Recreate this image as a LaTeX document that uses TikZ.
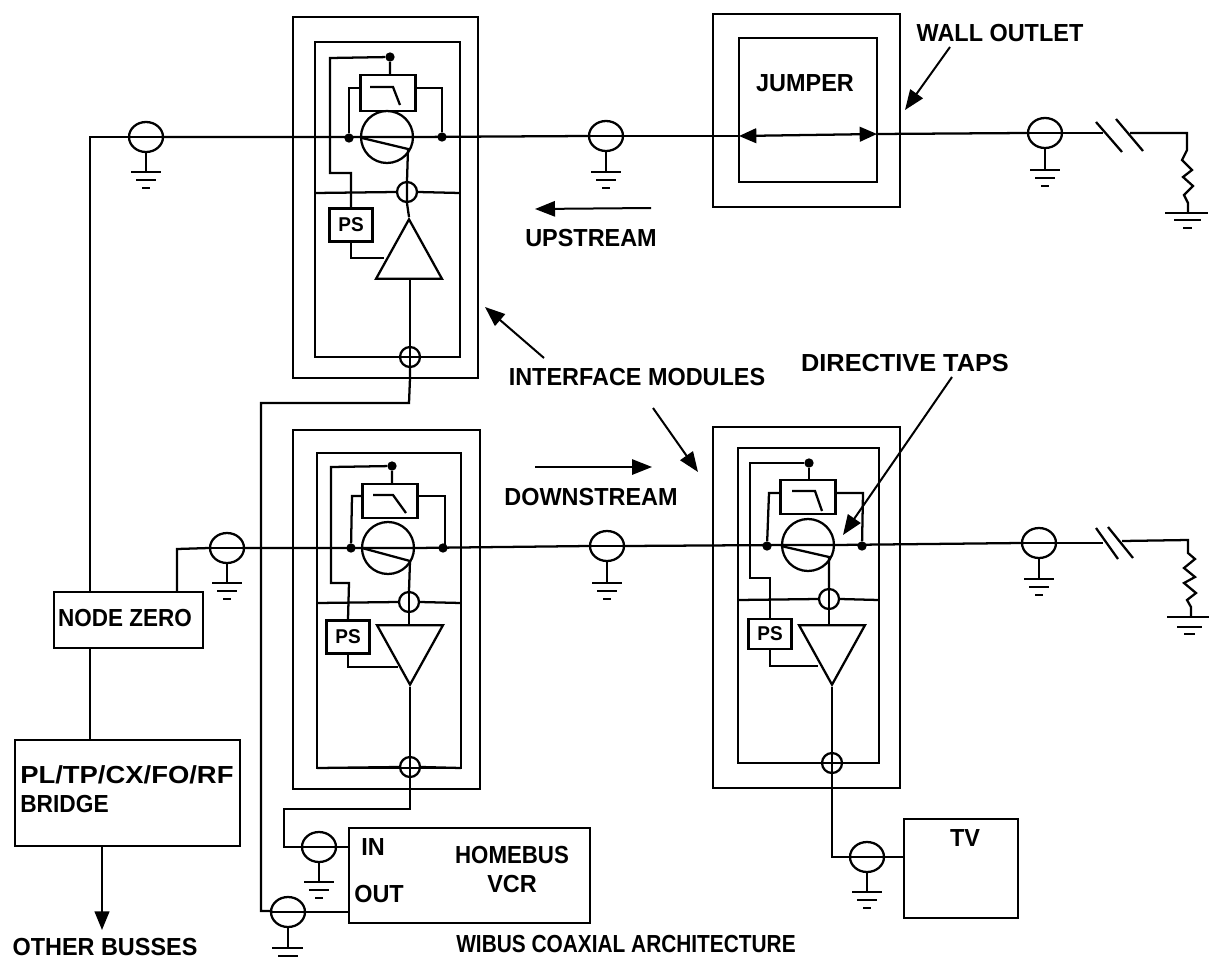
\documentclass[tikz,border=0pt]{standalone}
\usepackage{fontspec}
\setmainfont{Liberation Sans}[FakeStretch=0.95]
\usetikzlibrary{arrows.meta,shapes.geometric}
\tikzset{
  wire/.style={draw,line width=1.7pt},
  blk/.style={draw,line width=1.7pt,inner sep=0pt},
  tap/.style={draw,circle,line width=1.7pt,inner sep=0pt,minimum size=#1},
  coaxc/.style={draw,ellipse,line width=1.7pt,inner sep=0pt,minimum width=25.5pt,minimum height=22.5pt},
  dotn/.style={fill=black,circle,inner sep=0pt,minimum size=7pt},
  lbl/.style={font=\bfseries\fontsize{18.5pt}{20pt}\selectfont,inner sep=0pt},
  pslbl/.style={font=\bfseries\fontsize{15pt}{16pt}\selectfont},
  amp/.style={blk,isosceles triangle,isosceles triangle apex angle=58,minimum height=44.5pt,anchor=apex},
  headl/.style={-{Triangle[length=15pt,width=11.5pt]},line width=1.5pt}
}
\newcommand{\sx}[2]{\scalebox{#1}[1]{#2}}
\newcommand{\coaxsym}[4]{% name, x, y, ground end y
  \node[coaxc] (#1) at (#2,#3) {};
  \draw[wire] (#1.west) -- (#1.east);
  \draw[wire] (#1.south) -- (#2,#4);
  \draw[wire] (#2-15,#4) -- (#2+15,#4);
  \draw[wire] (#2-10,#4+8) -- (#2+10,#4+8);
  \draw[wire] (#2-4,#4+16) -- (#2+4,#4+16);
}
\begin{document}
\begin{tikzpicture}[x=0.75pt,y=-0.75pt]
\useasboundingbox[fill=white] (0,0) rectangle (1209,960);

% ---- top-left module
\draw[wire] (293,17) rectangle (478,378);
\draw[wire] (315,42) rectangle (460,357);
\node[tap=15pt] (ta) at (407,192) {};
\node[tap=15pt] (tb) at (410,357) {};
\draw[wire] (315,193) -- (ta.west) (ta.east) -- (460,193);
\node[tap=39pt] (ma) at (387,137) {};
\node[blk,minimum width=41.25pt,minimum height=27pt] (fa) at (388,93) {};
\draw[wire] (370,87) -- (393,87) -- (400,105);
\node[dotn] (da) at (390,57) {};
\node[dotn] (la) at (349,138) {};
\node[dotn] (ra) at (442,137) {};
\node[blk,pslbl,minimum width=32.25pt,minimum height=24.75pt] (pa) at (351,225) {PS};
\node[amp,shape border rotate=90] (ampa) at (409,217) {};
\draw[wire] (fa.north -| da) -- (da) -- (330,58) -- (330,173) -- (351,173) -- (pa.north);
\draw[wire] (pa.south) -- (351,258) -- (384,258);
\draw[wire] (fa.west |- 360,88) -- (349,88) -- (la);
\draw[wire] (fa.east |- 415,88) -- (442,88) -- (ra);
\draw[wire] (362,138) -- (408,149) -- (ta.north);
\draw[wire] (ta.north) -- (ta.south) -- (ampa.apex);
\draw[wire] (410,279) -- (tb.north) -- (tb.south);
\draw[wire] (tb.south) -- (410,378) -- (409,403) -- (261,403) -- (261,911) -- (272,911);
\draw[wire] (315,357) -- (tb.west) (tb.east) -- (460,357);

% ---- lower-left module
\draw[wire] (293,430) rectangle (480,789);
\draw[wire] (317,453) rectangle (461,768);
\node[tap=15pt] (tc) at (409,602) {};
\node[tap=15pt] (td) at (410,767) {};
\draw[wire] (317,603) -- (tc.west) (tc.east) -- (461,603);
\node[tap=39pt] (mc) at (388,548) {};
\node[blk,minimum width=41.25pt,minimum height=25.5pt] (fc) at (390,501) {};
\draw[wire] (373,495) -- (393,495) -- (406,513);
\node[dotn] (dc) at (392,466) {};
\node[dotn] (lc) at (351,548) {};
\node[dotn] (rc) at (443,548) {};
\node[blk,pslbl,minimum width=32.25pt,minimum height=24.75pt] (pc) at (348,637) {PS};
\node[amp,shape border rotate=-90] (ampc) at (410,687) {};
\draw[wire] (fc.north -| dc) -- (dc) -- (331,467) -- (331,583) -- (349,583) -- (pc.north);
\draw[wire] (pc.south) -- (348,667) -- (398,667);
\draw[wire] (fc.west |- 363,496) -- (352,496) -- (lc);
\draw[wire] (fc.east |- 418,496) -- (445,496) -- (445,548);
\draw[wire] (362,548) -- (410,561) -- (tc.north);
\draw[wire] (tc.north) -- (tc.south) -- (409,626);
\draw[wire] (ampc.apex) -- (td.north) -- (td.south);
\draw[wire] (317,768) -- (td.west) (td.east) -- (461,768);
\draw[wire] (td.south) -- (410,809) -- (284,809) -- (284,847) -- (302,847);

% ---- right module
\draw[wire] (713,427) rectangle (900,788);
\draw[wire] (738,448) rectangle (879,763);
\node[tap=15pt] (te) at (829,599) {};
\node[tap=15pt] (tf) at (832,763) {};
\draw[wire] (738,600) -- (te.west) (te.east) -- (879,600);
\node[tap=39pt] (me) at (808,545) {};
\node[blk,minimum width=41.25pt,minimum height=25.5pt] (fe) at (808,497) {};
\draw[wire] (792,491) -- (815,491) -- (822,511);
\node[dotn] (de) at (809,463) {};
\node[dotn] (le) at (767,546) {};
\node[dotn] (re) at (862,546) {};
\node[blk,pslbl,minimum width=32.25pt,minimum height=22.5pt] (pe) at (770,634) {PS};
\node[amp,shape border rotate=-90] (ampe) at (832,687) {};
\draw[wire] (fe.north -| de) -- (de) -- (750,463) -- (750,578) -- (770,578) -- (pe.north);
\draw[wire] (pe.south) -- (770,666) -- (818,666);
\draw[wire] (fe.west |- 781,493) -- (769,493) -- (le);
\draw[wire] (fe.east |- 836,493) -- (863,493) -- (re);
\draw[wire] (781,546) -- (829,557) -- (te.north);
\draw[wire] (te.north) -- (te.south) -- (829,624);
\draw[wire] (ampe.apex) -- (tf.north) -- (tf.south);
\draw[wire] (738,763) -- (tf.west) (tf.east) -- (879,763);
\draw[wire] (tf.south) -- (832,857) -- (850,857);

% ---- jumper
\draw[wire] (713,14) rectangle (900,207);
\draw[wire] (739,38) rectangle (877,182);
\node[lbl] (jl) at (805,83) {JUMPER};
\coordinate (jleft) at (739,136);
\coordinate (jright) at (877,134);
\draw[{Triangle[length=13pt,width=11pt]}-{Triangle[length=13pt,width=11pt]},line width=1.7pt] (jleft) -- (jright);

% ---- coax taps on the busses
\coaxsym{c1}{146}{137}{172}
\coaxsym{c2}{606}{136}{172}
\coaxsym{c3}{1045}{133}{170}
\coaxsym{c4}{227}{548}{583}
\coaxsym{c5}{607}{546}{583}
\coaxsym{c6}{1039}{543}{579}
\coaxsym{c7}{319}{847}{882}
\coaxsym{c9}{867}{857}{892}
\node[coaxc] (c8) at (288,912) {};
\draw[wire] (c8.west) -- (c8.east);
\draw[wire] (c8.south) -- (288,948);
\draw[wire] (272,948) -- (303,948);
\draw[wire] (278,956) -- (298,956);

% ---- boxes
\node[blk,minimum width=111.75pt,minimum height=42pt] (nz) at (128.5,620) {};
\node[lbl] (nzl) at (125,618) {\sx{0.96}{NODE ZERO}};
\node[blk,minimum width=168.75pt,minimum height=79.5pt] (br) at (127.5,793) {};
\node[lbl,anchor=west] (brl1) at (20,775) {\sx{1.17}{PL/TP/CX/FO/RF}};
\node[lbl,anchor=west] (brl2) at (20,804) {\sx{0.97}{BRIDGE}};
\node[blk,minimum width=180.75pt,minimum height=71.25pt] (vcr) at (469.5,875.5) {};
\node[blk,minimum width=85.5pt,minimum height=74.25pt] (tv) at (961,868.5) {};

% ---- busses
\draw[wire] (nz.north -| 90,592) -- (90,137) -- (c1.west);
\draw[wire] (c1.east) -- (ma.west) -- (ma.east) -- (c2.west);
\draw[wire] (c2.east) -- (jleft);
\draw[wire] (jright) -- (c3.west);
\draw[wire] (c3.east) -- (1103,133);
\coordinate (s1a) at (1096,122); \coordinate (s1b) at (1122,152);
\coordinate (s2a) at (1116,119); \coordinate (s2b) at (1143,151);
\draw[wire] (s1a) -- (s1b);
\draw[wire] (s2a) -- (s2b);
\draw[wire] (1130,133) -- (1187,133) -- (1187,150) -- (1182,160) -- (1192,170) -- (1183,177) -- (1193,186) -- (1184,195) -- (1188,203) -- (1188,213);
\draw[wire] (1165,213) -- (1208,213);
\draw[wire] (1174,220) -- (1201,220);
\draw[wire] (1183,228) -- (1192,228);

\draw[wire] (nz.north -| 177,592) -- (177,549) -- (c4.west);
\draw[wire] (c4.east) -- (mc.west) -- (mc.east) -- (c5.west);
\draw[wire] (c5.east) -- (me.west) -- (me.east) -- (c6.west);
\draw[wire] (c6.east) -- (1103,543);
\coordinate (s3a) at (1096,528); \coordinate (s3b) at (1118,559);
\coordinate (s4a) at (1108,527); \coordinate (s4b) at (1133,558);
\draw[wire] (s3a) -- (s3b);
\draw[wire] (s4a) -- (s4b);
\draw[wire] (1122,541) -- (1188,540) -- (1188,553) -- (1195,559) -- (1184,568) -- (1195,577) -- (1184,583) -- (1196,593) -- (1187,600) -- (1191,607) -- (1191,617);
\draw[wire] (1167,617) -- (1209,617);
\draw[wire] (1177,627) -- (1202,627);
\draw[wire] (1184,634) -- (1195,634);

\draw[wire] (nz.south -| 90,648) -- (90,740);
\draw[-{Triangle[length=14pt,width=11pt]},line width=1.7pt] (br.south -| 102,846) -- (102,930);
\draw[wire] (c7.east) -- (vcr.west |- 349,847);
\draw[wire] (c8.east) -- (vcr.west |- 349,912);
\draw[wire] (c9.east) -- (tv.west |- 904,857);

% ---- labels
\node[lbl] (ob) at (105,947) {OTHER BUSSES};
\node[lbl] (inl) at (373,847) {IN};
\node[lbl] (outl) at (379,894) {OUT};
\node[lbl] (hb) at (512,855) {\sx{0.95}{HOMEBUS}};
\node[lbl] (vl) at (512,884) {VCR};
\node[lbl] (arch) at (626,944) {\sx{0.89}{WIBUS COAXIAL ARCHITECTURE}};
\node[lbl] (tvl) at (965,838) {TV};
\node[lbl] (wo) at (1000,33) {WALL OUTLET};
\node[lbl] (up) at (591,238) {UPSTREAM};
\node[lbl] (down) at (591,497) {DOWNSTREAM};
\node[lbl] (im) at (637,377) {INTERFACE MODULES};
\node[lbl] (dt) at (905,363) {\sx{1.08}{DIRECTIVE TAPS}};

% ---- pointer arrows
\coordinate (wotail) at (950,47);
\draw[headl] (wotail) -- (905,110);
\draw[headl] (651,208) -- (535,209);
\draw[headl] (535,467) -- (652,467);
\draw[headl] (544,358) -- (485,307);
\draw[headl] (653,408) -- (698,472);
\draw[headl] (952,377) -- (843,535);
\end{tikzpicture}
\end{document}
